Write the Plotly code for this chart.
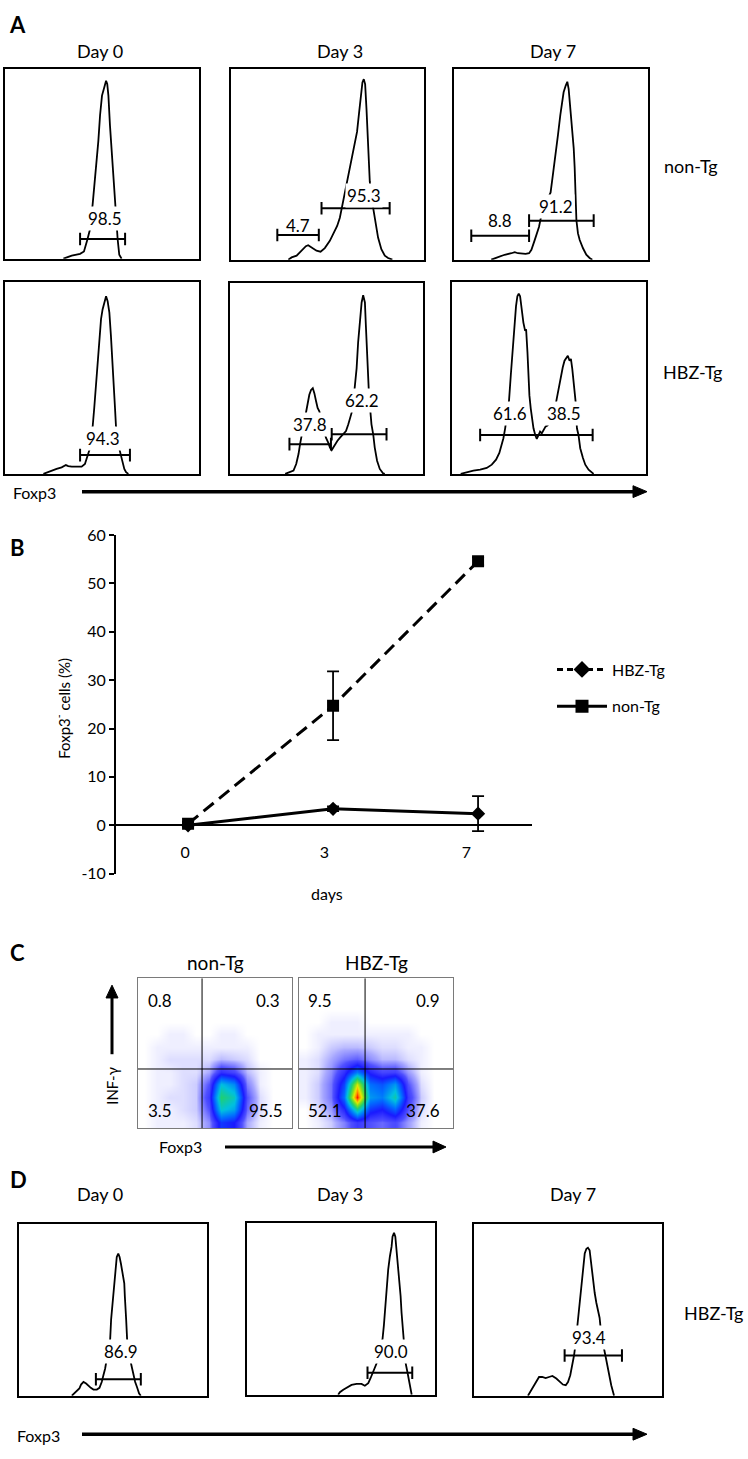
import plotly.graph_objects as go

W, H = 748, 1459
FONT = "Lato"

# ---------------- Panel A / D histogram data (x: % of box width, y: % of box height) -------------
a1_x = [30.1, 34.4, 38.7, 40.7, 42.4, 43.8, 45.2, 46.7, 48.1, 49.0, 50.0, 51.4, 52.1, 52.7, 53.3, 54.1, 55.0, 55.8, 56.7, 57.6, 58.1, 58.9, 60.1]
a1_y = [0, 1.6, 2.6, 3.8, 9.9, 15.4, 28.9, 44.5, 61.9, 75.7, 86.1, 91.3, 93.9, 92.2, 86.1, 70.5, 56.7, 42.8, 28.9, 15.4, 9.9, 2.1, 0]
a1_gate_x0 = [38.7]
a1_gate_x1 = [61.9]
a1_gate_y = [10.4]
a1_labels = ["98.5"]
a1_lab_x = [51.5]
a1_lab_y = [21.1]

a2_x = [29.7, 31.4, 34.0, 36.6, 38.8, 40.0, 41.7, 44.3, 46.4, 48.6, 51.2, 53.8, 55.0, 56.4, 57.8, 59.0, 60.3, 61.6, 62.8, 64.1, 65.3, 66.4, 67.2, 68.1, 68.8, 69.5, 70.2, 70.7, 71.4, 71.9, 72.8, 73.6, 75.0, 76.2, 77.9, 79.7, 81.4, 83.6]
a2_y = [0, 1.2, 2.1, 4.7, 7.1, 7.6, 6.4, 4.7, 4.2, 6.1, 9.9, 15.1, 17.7, 22.0, 28.9, 35.0, 41.1, 48.0, 53.2, 60.1, 67.1, 77.5, 86.1, 93.1, 94.8, 92.2, 79.2, 65.3, 53.2, 41.1, 32.4, 27.2, 18.5, 11.6, 5.5, 2.1, 0.9, 0]
a2_gate_x0 = [24.0, 46.9]
a2_gate_x1 = [45.5, 82.2]
a2_gate_y = [13.0, 27.0]
a2_labels = ["4.7", "95.3"]
a2_lab_x = [34.5, 68.8]
a2_lab_y = [18.2, 33.8]

a3_x = [19.2, 22.7, 26.1, 29.6, 31.3, 33.0, 34.7, 36.9, 38.7, 39.9, 41.6, 42.8, 43.8, 44.7, 45.9, 47.6, 49.8, 51.0, 52.4, 53.6, 54.8, 55.8, 56.5, 57.6, 58.4, 59.1, 60.0, 60.8, 61.7, 62.2, 62.5, 62.7, 63.1, 63.9, 64.8, 66.5, 68.2, 69.9, 71.3]
a3_y = [0, 1.4, 2.6, 3.4, 4.0, 3.4, 3.1, 3.1, 3.4, 5.2, 10.3, 13.8, 17.2, 21.6, 25.9, 30.2, 35.3, 44.8, 55.2, 65.5, 75.9, 82.8, 87.9, 91.4, 93.4, 89.7, 79.3, 69.0, 58.6, 48.3, 35.3, 27.6, 20.7, 13.8, 10.3, 6.0, 2.6, 0.9, 0]
a3_gate_x0 = [8.9, 38.7]
a3_gate_x1 = [38.7, 72.0]
a3_gate_y = [12.6, 20.5]
a3_labels = ["8.8", "91.2"]
a3_lab_x = [23.5, 52.7]
a3_lab_y = [20.7, 27.9]

a4_x = [19.8, 23.2, 26.6, 29.2, 31.4, 32.6, 34.4, 36.9, 39.5, 41.2, 42.4, 43.5, 44.3, 45.2, 46.0, 46.9, 47.8, 48.6, 49.5, 50.3, 51.2, 52.1, 52.9, 53.8, 54.6, 55.5, 56.2, 56.7, 57.2, 57.9, 58.8, 59.6, 60.7, 61.5, 62.4, 63.6]
a4_y = [0, 1.4, 2.6, 3.4, 4.6, 4.1, 3.8, 3.8, 3.8, 5.2, 9.5, 12.4, 18.9, 24.9, 34.4, 46.4, 60.1, 72.2, 80.8, 85.9, 90.2, 92.8, 90.2, 84.2, 72.2, 58.4, 46.4, 34.4, 24.9, 18.9, 13.7, 10.3, 6.0, 2.6, 0.9, 0]
a4_gate_x0 = [38.7]
a4_gate_x1 = [64.4]
a4_gate_y = [9.8]
a4_labels = ["94.3"]
a4_lab_x = [50.7]
a4_lab_y = [18.6]

a5_x = [28.6, 31.2, 32.9, 34.3, 35.5, 36.3, 37.2, 38.0, 38.9, 39.4, 40.3, 41.1, 42.0, 42.9, 43.7, 44.6, 45.4, 46.3, 47.5, 48.7, 49.7, 50.9, 51.8, 52.7, 53.5, 54.4, 55.6, 57.0, 58.7, 60.1, 61.3, 62.1, 63.0, 63.9, 64.7, 65.6, 66.4, 67.3, 68.2, 69.0, 69.9, 70.4, 70.9, 71.4, 71.9, 72.3, 72.8, 73.3, 74.2, 75.0, 76.2, 77.6, 79.3, 80.2]
a5_y = [0, 0.9, 1.7, 5.2, 10.4, 15.6, 20.8, 26.0, 30.3, 32.9, 37.2, 41.5, 44.1, 45.0, 42.4, 38.1, 34.6, 32.9, 27.7, 22.5, 19.0, 16.4, 13.8, 12.5, 13.8, 15.6, 17.3, 19.0, 20.8, 22.5, 26.0, 29.4, 32.0, 38.1, 45.0, 55.4, 69.2, 81.3, 90.0, 93.8, 90.0, 77.9, 64.0, 51.9, 44.1, 38.1, 32.0, 26.0, 20.8, 13.8, 6.9, 2.6, 0.3, 0]
a5_gate_x0 = [30.8, 52.7]
a5_gate_x1 = [52.3, 81.1]
a5_gate_y = [15.6, 20.8]
a5_labels = ["37.8", "62.2"]
a5_lab_x = [41.5, 68.2]
a5_lab_y = [26.0, 38.4]

a6_x = [4.5, 7.6, 11.0, 14.5, 17.9, 20.5, 22.7, 24.4, 25.6, 26.5, 27.4, 28.2, 28.9, 29.4, 30.3, 31.2, 32.0, 33.0, 33.7, 34.4, 35.1, 36.0, 36.8, 37.7, 38.2, 38.9, 39.4, 39.9, 40.6, 41.3, 42.0, 42.9, 43.7, 44.6, 45.4, 46.3, 47.2, 48.2, 49.2, 50.6, 52.0, 53.2, 54.0, 54.9, 56.1, 57.1, 58.0, 58.9, 59.7, 60.6, 61.3, 62.0, 62.7, 63.2, 63.7, 64.0, 64.4, 65.2, 66.1, 67.5, 68.7, 70.4, 72.1, 73.0]
a6_y = [0, 1.0, 1.7, 2.2, 3.1, 4.8, 7.4, 10.9, 15.2, 18.6, 23.8, 29.0, 34.1, 38.4, 51.4, 65.2, 77.2, 87.6, 92.8, 94.1, 92.8, 84.1, 79.0, 74.7, 75.5, 63.4, 51.4, 41.0, 34.1, 29.0, 23.8, 20.3, 18.3, 20.3, 22.1, 21.2, 23.3, 24.7, 25.2, 27.2, 30.7, 35.0, 39.3, 44.5, 51.4, 55.7, 59.1, 60.9, 61.7, 59.1, 60.0, 54.8, 47.9, 42.8, 37.9, 30.7, 23.8, 20.3, 13.4, 8.3, 4.8, 2.2, 1.0, 0]
a6_gate_x0 = [14.5]
a6_gate_x1 = [72.5]
a6_gate_y = [20.3]
a6_labels = ["61.6", "38.5"]
a6_lab_x = [29.9, 57.5]
a6_lab_y = [31.6, 31.6]

d1_x = [28.1, 29.3, 31.1, 32.1, 33.0, 34.3, 35.7, 36.9, 38.2, 39.6, 41.4, 42.8, 44.0, 44.9, 45.8, 46.7, 47.6, 48.5, 49.0, 49.9, 50.8, 51.5, 52.0, 52.8, 53.5, 54.2, 55.1, 56.0, 56.3, 56.7, 57.0, 57.5, 58.3, 59.0, 59.5, 60.2, 60.9, 61.8, 62.7, 63.9, 64.8]
d1_y = [0, 1.3, 2.7, 4.2, 6.5, 8.0, 7.1, 5.7, 4.6, 3.6, 3.6, 4.6, 8.0, 11.9, 15.7, 21.5, 27.2, 33.0, 44.4, 55.9, 67.4, 77.0, 80.8, 82.8, 80.8, 77.0, 71.3, 65.5, 57.9, 52.1, 44.4, 33.0, 27.2, 21.5, 19.2, 15.7, 11.9, 8.0, 5.2, 1.3, 0]
d1_gate_x0 = [40.9]
d1_gate_x1 = [64.8]
d1_gate_y = [9.6]
d1_labels = ["86.9"]
d1_lab_x = [54.2]
d1_lab_y = [25.7]

d2_x = [48.5, 49.4, 51.2, 53.3, 55.6, 58.3, 60.9, 62.7, 64.5, 65.7, 66.8, 68.0, 68.9, 70.3, 72.1, 72.8, 73.5, 74.2, 75.1, 76.0, 76.9, 77.4, 78.2, 78.9, 79.6, 80.3, 81.0, 81.7, 82.2, 82.8, 83.1, 83.7, 84.4, 85.3, 86.1, 86.7, 87.6]
d2_y = [0, 1.5, 2.9, 4.2, 5.7, 6.3, 6.3, 5.2, 6.7, 9.6, 12.5, 15.3, 18.2, 24.9, 32.6, 40.2, 51.7, 61.3, 72.8, 80.5, 86.2, 92.0, 94.3, 92.0, 84.3, 74.7, 65.1, 57.5, 47.9, 40.2, 32.2, 24.9, 18.2, 13.4, 8.6, 4.8, 0]
d2_gate_x0 = [64.1]
d2_gate_x1 = [87.9]
d2_gate_y = [12.8]
d2_labels = ["90.0"]
d2_lab_x = [76.4]
d2_lab_y = [24.9]

d3_x = [28.7, 30.0, 31.7, 33.2, 34.6, 36.3, 38.1, 39.9, 41.7, 43.8, 45.6, 47.3, 48.8, 50.0, 51.2, 52.3, 53.2, 53.9, 54.6, 55.3, 56.2, 57.1, 58.0, 58.9, 59.8, 60.6, 61.5, 62.4, 63.3, 64.2, 65.1, 66.0, 66.8, 67.6, 68.3, 69.0, 69.9, 70.9, 71.8, 73.0, 74.5]
d3_y = [0, 2.3, 5.2, 8.0, 10.9, 10.9, 10.3, 10.9, 11.5, 10.0, 8.4, 6.5, 6.1, 8.0, 11.9, 17.6, 23.4, 29.1, 36.8, 44.4, 55.9, 65.5, 75.1, 82.8, 85.6, 86.2, 84.7, 75.1, 65.5, 59.8, 54.0, 50.2, 45.4, 36.8, 31.0, 28.2, 23.4, 17.6, 11.9, 6.1, 0]
d3_gate_x0 = [48.2]
d3_gate_x1 = [78.7]
d3_gate_y = [23.4]
d3_labels = ["93.4"]
d3_lab_x = [61.0]
d3_lab_y = [33.9]

# ---------------- Panel B data ----------------
day_labels = ["0", "3", "7"]
hbz_mean = [0.3, 24.7, 54.6]
hbz_err = [0.4, 7.1, 0.8]
non_mean = [0.0, 3.4, 2.4]
non_err = [0.3, 0.5, 3.6]
b_yticks = [-10, 0, 10, 20, 30, 40, 50, 60]
b_yticktext = ["-10", "0", "10", "20", "30", "40", "50", "60"]

# ---------------- Panel C data (density grid, rows bottom->top, 12x12 over the plot) -------------
nontg_density = [
    [0, 1, 1, 1, 2, 7, 26, 22, 5, 1, 0, 0],
    [0, 1, 1, 2, 3, 12, 48, 42, 10, 2, 0, 0],
    [0, 1, 2, 2, 3, 16, 58, 50, 12, 2, 0, 0],
    [0, 1, 1, 2, 3, 12, 46, 38, 8, 1, 0, 0],
    [0, 1, 1, 2, 2, 5, 18, 14, 4, 1, 0, 0],
    [0, 1, 2, 2, 2, 2, 4, 3, 2, 0, 0, 0],
    [0, 1, 1, 1, 1, 1, 1, 1, 1, 0, 0, 0],
    [0, 0, 1, 1, 0, 0, 1, 1, 0, 0, 0, 0],
    [0, 0, 0, 0, 0, 0, 0, 0, 0, 0, 0, 0],
    [0, 0, 0, 0, 0, 0, 0, 0, 0, 0, 0, 0],
    [0, 0, 0, 0, 0, 0, 0, 0, 0, 0, 0, 0],
    [0, 0, 0, 0, 0, 0, 0, 0, 0, 0, 0, 0],
]
hbztg_density = [
    [0, 1, 3, 8, 16, 12, 10, 13, 6, 1, 0, 0],
    [0, 2, 6, 20, 55, 26, 22, 32, 12, 2, 0, 0],
    [1, 3, 9, 34, 100, 40, 36, 52, 16, 3, 0, 0],
    [1, 3, 9, 28, 78, 34, 30, 40, 12, 2, 0, 0],
    [1, 2, 7, 18, 36, 20, 14, 15, 6, 1, 0, 0],
    [1, 2, 5, 9, 11, 7, 4, 4, 2, 1, 0, 0],
    [0, 1, 3, 4, 4, 3, 2, 2, 1, 1, 0, 0],
    [0, 1, 1, 1, 1, 1, 1, 1, 1, 0, 0, 0],
    [0, 0, 1, 1, 1, 0, 0, 0, 0, 0, 0, 0],
    [0, 0, 0, 0, 0, 0, 0, 0, 0, 0, 0, 0],
    [0, 0, 0, 0, 0, 0, 0, 0, 0, 0, 0, 0],
    [0, 0, 0, 0, 0, 0, 0, 0, 0, 0, 0, 0],
]
c_quad_x = [41.6, 42.9]
c_quad_y = [39.5, 39.5]
c_titles = ["non-Tg", "HBZ-Tg"]
c_quadrant_values = [["0.8", "0.3", "3.5", "95.5"], ["9.5", "0.9", "52.1", "37.6"]]


# ---------------- helpers ----------------
def dom_x(l, r):
    return [l / W, r / W]


def dom_y(t, b):
    return [1 - b / H, 1 - t / H]


def aid(letter, i):
    return letter if i == 1 else f"{letter}{i}"


def lname(letter, i):
    return f"{letter}axis" if i == 1 else f"{letter}axis{i}"


def pp(x, y):
    return x / W, 1 - y / H


fig = go.Figure()
layout = dict(
    width=W, height=H, margin=dict(l=0, r=0, t=0, b=0),
    paper_bgcolor="white", plot_bgcolor="white",
    font=dict(family=FONT, color="black"),
)
annotations = []
shapes = []


def text(x, y, s, size, angle=0, family=FONT, bold=False):
    ax, ay = pp(x, y)
    annotations.append(dict(
        x=ax, y=ay, xref="paper", yref="paper", text=f"<b>{s}</b>" if bold else s,
        showarrow=False, xanchor="center", yanchor="middle", textangle=angle,
        font=dict(family=family, size=size, color="black")))


def harrow(x0, x1, y, width, head_len=13, head_half=6):
    a0, b0 = pp(x0, y)
    a1, _ = pp(x1 - head_len + 1, y)
    shapes.append(dict(type="line", xref="paper", yref="paper", x0=a0, y0=b0, x1=a1, y1=b0,
                       line=dict(color="black", width=width)))
    p1 = pp(x1 - head_len, y - head_half)
    p2 = pp(x1, y)
    p3 = pp(x1 - head_len, y + head_half)
    shapes.append(dict(type="path", xref="paper", yref="paper",
                       path=f"M{p1[0]},{p1[1]} L{p2[0]},{p2[1]} L{p3[0]},{p3[1]} Z",
                       fillcolor="black", line=dict(color="black", width=1)))


def varrow(x, y0, y1, width, head_len=13, head_half=6):
    a0, b0 = pp(x, y0)
    _, b1 = pp(x, y1 + head_len - 1)
    shapes.append(dict(type="line", xref="paper", yref="paper", x0=a0, y0=b0, x1=a0, y1=b1,
                       line=dict(color="black", width=width)))
    p1 = pp(x - head_half, y1 + head_len)
    p2 = pp(x, y1)
    p3 = pp(x + head_half, y1 + head_len)
    shapes.append(dict(type="path", xref="paper", yref="paper",
                       path=f"M{p1[0]},{p1[1]} L{p2[0]},{p2[1]} L{p3[0]},{p3[1]} Z",
                       fillcolor="black", line=dict(color="black", width=1)))


hist_boxes = [
    (1, (5, 199, 60, 252), a1_x, a1_y, a1_gate_x0, a1_gate_x1, a1_gate_y, a1_labels, a1_lab_x, a1_lab_y),
    (2, (231, 424, 60, 253), a2_x, a2_y, a2_gate_x0, a2_gate_x1, a2_gate_y, a2_labels, a2_lab_x, a2_lab_y),
    (3, (454, 648, 60, 253), a3_x, a3_y, a3_gate_x0, a3_gate_x1, a3_gate_y, a3_labels, a3_lab_x, a3_lab_y),
    (4, (5, 199, 276, 470), a4_x, a4_y, a4_gate_x0, a4_gate_x1, a4_gate_y, a4_labels, a4_lab_x, a4_lab_y),
    (5, (230, 423, 277, 470), a5_x, a5_y, a5_gate_x0, a5_gate_x1, a5_gate_y, a5_labels, a5_lab_x, a5_lab_y),
    (6, (452, 646, 276, 470), a6_x, a6_y, a6_gate_x0, a6_gate_x1, a6_gate_y, a6_labels, a6_lab_x, a6_lab_y),
    (10, (19, 207, 1230, 1404), d1_x, d1_y, d1_gate_x0, d1_gate_x1, d1_gate_y, d1_labels, d1_lab_x, d1_lab_y),
    (11, (247, 435, 1229, 1403), d2_x, d2_y, d2_gate_x0, d2_gate_x1, d2_gate_y, d2_labels, d2_lab_x, d2_lab_y),
    (12, (474, 662, 1230, 1404), d3_x, d3_y, d3_gate_x0, d3_gate_x1, d3_gate_y, d3_labels, d3_lab_x, d3_lab_y),
]

for (i, (l, r, t, b), cx, cy, gx0, gx1, gy, labs, lx, ly) in hist_boxes:
    xa, ya = aid("x", i), aid("y", i)
    common = dict(range=[0, 100], showgrid=False, zeroline=False, showticklabels=False,
                  ticks="", showline=True, mirror=True, linecolor="black", linewidth=2,
                  fixedrange=True)
    layout[lname("x", i)] = dict(domain=dom_x(l, r), anchor=ya, **common)
    layout[lname("y", i)] = dict(domain=dom_y(t, b), anchor=xa, **common)
    fig.add_trace(go.Scatter(x=cx, y=cy, mode="lines", line=dict(color="black", width=1.8),
                             xaxis=xa, yaxis=ya, showlegend=False, hoverinfo="skip"))
    for x0, x1, y in zip(gx0, gx1, gy):
        fig.add_trace(go.Scatter(x=[x0, x1], y=[y, y], mode="lines+markers",
                                 line=dict(color="black", width=2),
                                 marker=dict(symbol="line-ns-open", size=9,
                                             line=dict(color="black", width=2)),
                                 xaxis=xa, yaxis=ya, showlegend=False, hoverinfo="skip"))
    for s, x, y in zip(labs, lx, ly):
        overlap = any(abs(px_ - x) < 9 and abs(py_ - y) < 6 for px_, py_ in zip(cx, cy))
        annotations.append(dict(x=x, y=y, xref=xa, yref=ya, text=s, showarrow=False,
                                xanchor="center", yanchor="middle",
                                bgcolor="white" if overlap else "rgba(0,0,0,0)", borderpad=1,
                                font=dict(family=FONT, size=17, color="black")))

# ---------------- Panel B ----------------
bx0, bx1 = 116, 532
bt, bb = 532, 875
b_dom_y = dom_y(bt, bb)
zero_pos = b_dom_y[0] + (0 - (-10)) / 70 * (b_dom_y[1] - b_dom_y[0])
day_pos = list(range(len(day_labels)))
layout["xaxis7"] = dict(domain=dom_x(bx0, bx1), range=[-0.497, 2.372], anchor="free",
                        position=zero_pos, showgrid=False, zeroline=False, showline=False,
                        ticks="", tickvals=[-0.02, 0.94, 1.92], ticktext=day_labels,
                        ticklabelstandoff=16, tickfont=dict(size=16, family=FONT),
                        fixedrange=True)
layout["yaxis7"] = dict(domain=b_dom_y, range=[-10, 60], anchor="x7", showgrid=False,
                        zeroline=True, zerolinecolor="black", zerolinewidth=1.8,
                        showline=True, linecolor="black", linewidth=1.8,
                        ticks="outside", ticklen=5, tickwidth=1.8, tickcolor="black",
                        tickvals=b_yticks, ticktext=b_yticktext,
                        tickfont=dict(size=16, family=FONT), fixedrange=True)

fig.add_trace(go.Scatter(
    x=day_pos, y=hbz_mean, mode="lines+markers", xaxis="x7", yaxis="y7", showlegend=False,
    line=dict(color="black", width=3, dash="13px,7px"),
    marker=dict(symbol="square", size=12, color="black"),
    error_y=dict(type="data", array=hbz_err, color="black", thickness=1.8, width=6)))
fig.add_trace(go.Scatter(
    x=day_pos, y=non_mean, mode="lines+markers", xaxis="x7", yaxis="y7", showlegend=False,
    line=dict(color="black", width=3),
    marker=dict(symbol="diamond", size=11, color="black"),
    error_y=dict(type="data", array=non_err, color="black", thickness=1.8, width=6)))
# legend entries (as drawn in the reference legend)
fig.add_trace(go.Scatter(
    x=[None], y=[None], name="HBZ-Tg", mode="lines+markers", xaxis="x7", yaxis="y7",
    legendgroup="g1", line=dict(color="black", width=3, dash="6px,4px"),
    marker=dict(symbol="diamond", size=13, color="black")))
fig.add_trace(go.Scatter(
    x=[None], y=[None], name="non-Tg", mode="lines+markers", xaxis="x7", yaxis="y7",
    legendgroup="g2", line=dict(color="black", width=3),
    marker=dict(symbol="square", size=13, color="black")))
lgx, lgy = pp(552, 651)
layout["legend"] = dict(x=lgx, y=lgy, xanchor="left", yanchor="top", bgcolor="rgba(0,0,0,0)",
                        font=dict(family=FONT, size=16, color="black"), tracegroupgap=13,
                        itemwidth=50, borderwidth=0)
layout["showlegend"] = True
text(63, 708, "Foxp3<sup>-</sup> cells (%)", 15, angle=-90)
text(327, 895, "days", 16)

# ---------------- Panel C ----------------
cs = [[0, "#ffffff"], [0.012, "#ececff"], [0.05, "#a8a8ff"], [0.12, "#5050ff"],
      [0.22, "#1a1aff"], [0.34, "#0070ff"], [0.46, "#00c0e0"], [0.58, "#20d070"],
      [0.7, "#80e020"], [0.8, "#e8e800"], [0.9, "#ff9000"], [1, "#ff1000"]]
grid_n = len(nontg_density[0])
centers = [(k + 0.5) * 100 / grid_n for k in range(grid_n)]
c_boxes = [(8, (138, 292, 981, 1133), nontg_density), (9, (299, 453, 981, 1133), hbztg_density)]
c_num_pos = [[(160, 1004), (268, 1004), (160, 1115), (266, 1115)],
             [(320, 1004), (428, 1004), (325, 1115), (423, 1115)]]
for k, (i, (l, r, t, b), z) in enumerate(c_boxes):
    xa, ya = aid("x", i), aid("y", i)
    common = dict(range=[0, 100], showgrid=False, zeroline=False, showticklabels=False,
                  ticks="", showline=True, mirror=True, linecolor="#7a7a7a", linewidth=1,
                  fixedrange=True)
    layout[lname("x", i)] = dict(domain=dom_x(l, r), anchor=ya, **common)
    layout[lname("y", i)] = dict(domain=dom_y(t, b), anchor=xa, **common)
    fig.add_trace(go.Heatmap(x=centers, y=centers, z=z, colorscale=cs, zmin=0, zmax=100,
                             zsmooth="best", showscale=False, xaxis=xa, yaxis=ya,
                             hoverinfo="skip"))
    shapes.append(dict(type="line", xref=xa, yref=ya, x0=c_quad_x[k], x1=c_quad_x[k], y0=0, y1=100,
                       line=dict(color="black", width=1)))
    shapes.append(dict(type="line", xref=xa, yref=ya, x0=0, x1=100, y0=c_quad_y[k], y1=c_quad_y[k],
                       line=dict(color="black", width=1)))
    text((l + r) / 2, 965, c_titles[k], 19)
    for s, (x, y) in zip(c_quadrant_values[k], c_num_pos[k]):
        text(x, y, s, 17)
varrow(112, 1058, 988, 3, head_len=13, head_half=6)
text(112, 1090, "INF-γ", 15, angle=-90)
text(180, 1152, "Foxp3", 16)
harrow(225, 446, 1152, 3, head_len=13, head_half=6)

# ---------------- Panel texts ----------------
text(17, 15, "A", 22, bold=True)
text(17, 545, "B", 22, bold=True)
text(17, 955, "C", 22, bold=True)
text(18, 1185, "D", 22, bold=True)

for x, s in [(100, "Day 0"), (340, "Day 3"), (553, "Day 7")]:
    text(x, 42, s, 18)
text(691, 158, "non-Tg", 18)
text(692, 367, "HBZ-Tg", 18)
text(34, 489, "Foxp3", 16)
harrow(82, 647, 488, 3.5, head_len=14, head_half=6)

for x, s in [(100, "Day 0"), (340, "Day 3"), (573, "Day 7")]:
    text(x, 1200, s, 18)
text(713, 1320, "HBZ-Tg", 18)
text(38, 1444, "Foxp3", 16)
harrow(82, 647, 1443, 3.5, head_len=14, head_half=6)

layout["annotations"] = annotations
layout["shapes"] = shapes
fig.update_layout(**layout)
fig.write_html(
    "out.html",
    config={"displayModeBar": False},
    post_script="document.body.style.margin='0px';document.body.style.overflow='hidden';",
)
